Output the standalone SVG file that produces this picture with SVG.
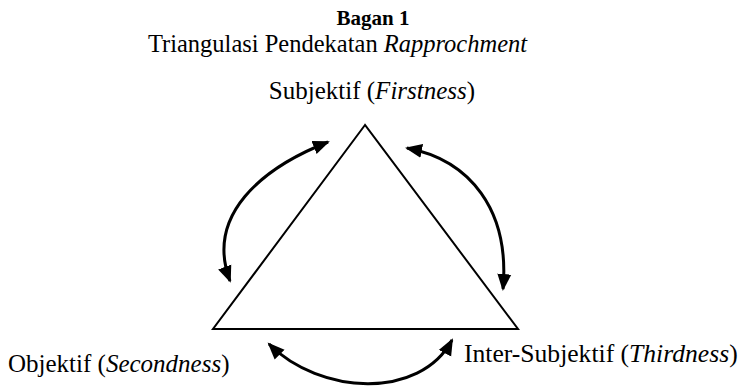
<svg xmlns="http://www.w3.org/2000/svg" width="751" height="388" viewBox="0 0 751 388">
  <style>
    text { font-family: "Liberation Serif", "Times New Roman", serif; fill: #000; }
    .title { font-size: 21px; font-weight: bold; }
    .sub { font-size: 24.5px; }
    .lbl { font-size: 25px; }
    .it { font-style: italic; }
    .tri { fill: none; stroke: #000; stroke-width: 2; stroke-linejoin: miter; }
    .arc { fill: none; stroke: #000; stroke-width: 3; marker-start: url(#head); marker-end: url(#head); }
  </style>
  <defs>
    <marker id="head" markerUnits="userSpaceOnUse" markerWidth="18" markerHeight="16" refX="15" refY="7" orient="auto-start-reverse" viewBox="0 0 18 14">
      <path d="M0,0 L17,7 L0,14 z" fill="#000"/>
    </marker>
  </defs>
  <g id="title">
    <text class="title" x="373" y="25" text-anchor="middle">Bagan 1</text>
    <text class="sub" x="337.5" y="52" text-anchor="middle">Triangulasi Pendekatan <tspan class="it">Rapprochment</tspan></text>
  </g>
  <g id="triangle">
    <polygon class="tri" points="365,125 213,329 518,329"/>
  </g>
  <g id="node-subjektif">
    <text class="lbl" x="372" y="99" text-anchor="middle">Subjektif (<tspan class="it">Firstness</tspan>)</text>
  </g>
  <g id="node-objektif">
    <text class="lbl" x="8" y="372">Objektif (<tspan class="it">Secondness</tspan>)</text>
  </g>
  <g id="node-intersubjektif">
    <text class="lbl" x="464" y="362" style="font-size:25.6px">Inter-Subjektif (<tspan class="it">Thirdness</tspan>)</text>
  </g>
  <g id="connectors">
    <path class="arc" d="M 328,142 C 262,168 205,215 230,281"/>
    <path class="arc" d="M 407,148 C 470,160 510,210 503,289"/>
    <path class="arc" d="M 269,344 C 320,395 420,400 452,340"/>
  </g>
</svg>
